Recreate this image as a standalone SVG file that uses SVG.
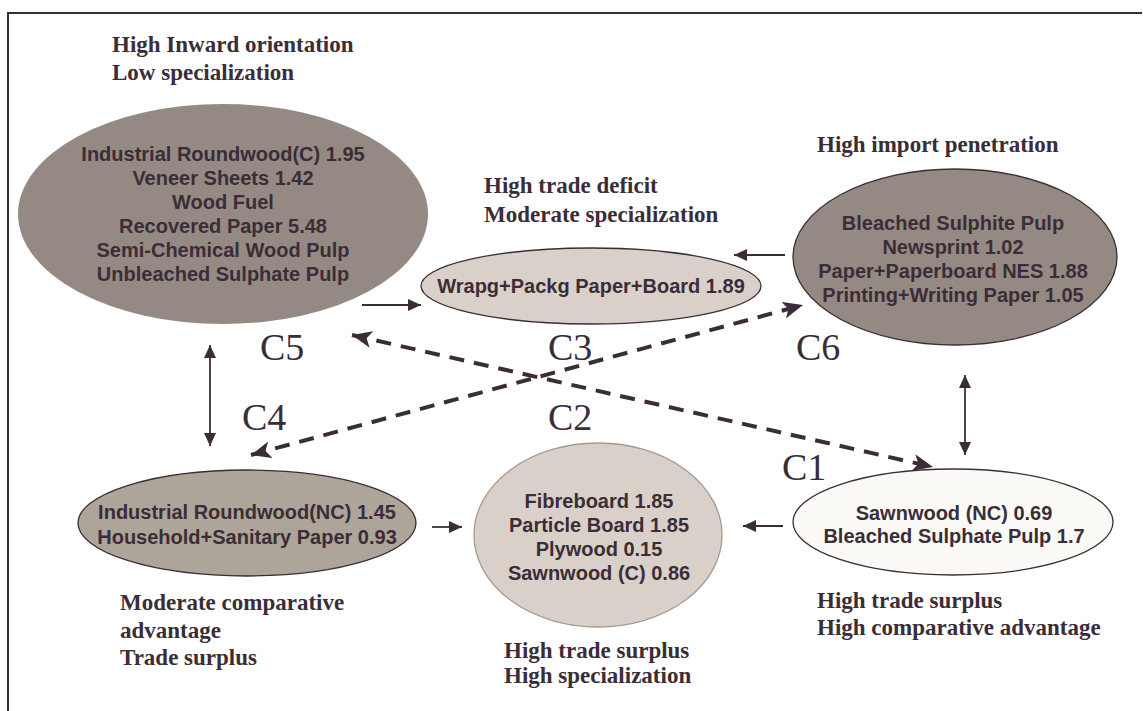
<svg xmlns="http://www.w3.org/2000/svg" width="1143" height="711" viewBox="0 0 1143 711">
<defs>
<style>
.t{font-family:"Liberation Sans",Arial,sans-serif;font-weight:bold;font-size:20px;fill:#3b2d37;text-anchor:middle}
.h{font-family:"Liberation Serif","Times New Roman",serif;font-weight:bold;font-size:23px;fill:#3b2d37}
.c{font-family:"Liberation Serif","Times New Roman",serif;font-size:38px;fill:#3b2d37}
.ln{stroke:#3b2d37;stroke-width:1.8;fill:none}
.dl{stroke:#3b2d37;stroke-width:4;fill:none;stroke-dasharray:15 10}
.e{stroke:#3b2d37;stroke-width:1.3}
</style>
<marker id="a" viewBox="0 0 13 12" refX="13" refY="6" markerWidth="13" markerHeight="12" markerUnits="userSpaceOnUse" orient="auto-start-reverse">
<path d="M0,0 L13,6 L0,12 z" fill="#3b2d37"/>
</marker>
<marker id="d" viewBox="0 0 20 17" refX="20" refY="8.5" markerWidth="20" markerHeight="17" markerUnits="userSpaceOnUse" orient="auto-start-reverse">
<path d="M0,0 L20,8.5 L0,17 L5,8.5 z" fill="#3b2d37"/>
</marker>
</defs>
<rect width="1143" height="711" fill="#ffffff"/>
<path d="M8,711 L8,13 L1142,13" stroke="#3b2d37" stroke-width="2" fill="none"/>

<g id="connectors">
<line class="ln" x1="362" y1="305" x2="421" y2="305" marker-end="url(#a)"/>
<line class="ln" x1="785" y1="255" x2="734" y2="255" marker-end="url(#a)"/>
<line class="ln" x1="432" y1="527" x2="462" y2="527" marker-end="url(#a)"/>
<line class="ln" x1="783" y1="526" x2="743" y2="526" marker-end="url(#a)"/>
<line class="ln" x1="210" y1="345" x2="210" y2="446" marker-start="url(#a)" marker-end="url(#a)"/>
<line class="ln" x1="965" y1="375" x2="965" y2="455" marker-start="url(#a)" marker-end="url(#a)"/>
<line class="dl" x1="251" y1="455" x2="803" y2="305" marker-start="url(#d)" marker-end="url(#d)"/>
<line class="dl" x1="352" y1="335" x2="933" y2="467" marker-start="url(#d)" marker-end="url(#d)"/>
</g>

<g id="C5">
<ellipse cx="223" cy="214" rx="205" ry="110" fill="#948a83"/>
<text class="t" x="223" y="161">Industrial Roundwood(C) 1.95</text>
<text class="t" x="223" y="185">Veneer Sheets 1.42</text>
<text class="t" x="223" y="209">Wood Fuel</text>
<text class="t" x="223" y="233">Recovered Paper 5.48</text>
<text class="t" x="223" y="257">Semi-Chemical Wood Pulp</text>
<text class="t" x="223" y="281">Unbleached Sulphate Pulp</text>
<text class="h" x="112" y="52">High Inward orientation</text>
<text class="h" x="112" y="80">Low specialization</text>
<text class="c" x="260" y="360">C5</text>
</g>

<g id="C3">
<ellipse class="e" cx="591" cy="286" rx="170" ry="38" fill="#d9d1c9"/>
<text class="t" x="591" y="293">Wrapg+Packg Paper+Board 1.89</text>
<text class="h" x="484" y="193">High trade deficit</text>
<text class="h" x="484" y="222">Moderate specialization</text>
<text class="c" x="548" y="360">C3</text>
</g>

<g id="C6">
<ellipse class="e" cx="955" cy="257" rx="162" ry="88" fill="#948a83"/>
<text class="t" x="953" y="230">Bleached Sulphite Pulp</text>
<text class="t" x="953" y="254">Newsprint 1.02</text>
<text class="t" x="953" y="278">Paper+Paperboard NES 1.88</text>
<text class="t" x="953" y="302">Printing+Writing Paper 1.05</text>
<text class="h" x="817" y="152">High import penetration</text>
<text class="c" x="796" y="360">C6</text>
</g>

<g id="C4">
<ellipse class="e" cx="247" cy="523" rx="169" ry="53" fill="#ada59a"/>
<text class="t" x="247" y="519">Industrial Roundwood(NC) 1.45</text>
<text class="t" x="247" y="544">Household+Sanitary Paper 0.93</text>
<text class="h" x="120" y="610">Moderate comparative</text>
<text class="h" x="120" y="638">advantage</text>
<text class="h" x="120" y="665">Trade surplus</text>
<text class="c" x="242" y="430">C4</text>
</g>

<g id="C2">
<ellipse cx="598" cy="535" rx="124" ry="92" fill="#d9d1c9" stroke="#a49a92" stroke-width="1.3"/>
<text class="t" x="599" y="508">Fibreboard 1.85</text>
<text class="t" x="599" y="532">Particle Board 1.85</text>
<text class="t" x="599" y="556">Plywood 0.15</text>
<text class="t" x="599" y="580">Sawnwood (C) 0.86</text>
<text class="h" x="504" y="658">High trade surplus</text>
<text class="h" x="504" y="683">High specialization</text>
<text class="c" x="548" y="430">C2</text>
</g>

<g id="C1">
<ellipse class="e" cx="953" cy="522" rx="160" ry="53" fill="#fbf9f6"/>
<text class="t" x="954" y="520">Sawnwood (NC) 0.69</text>
<text class="t" x="954" y="543">Bleached Sulphate Pulp 1.7</text>
<text class="h" x="817" y="608">High trade surplus</text>
<text class="h" x="817" y="635">High comparative advantage</text>
<text class="c" x="782" y="480">C1</text>
</g>
</svg>
